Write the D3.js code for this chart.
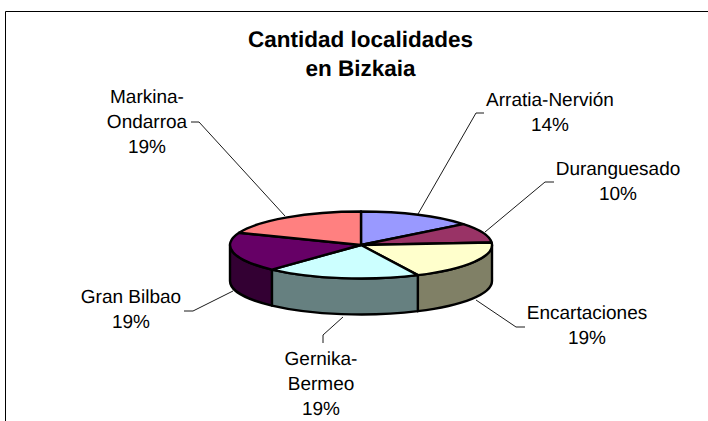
<!DOCTYPE html>
<html><head><meta charset="utf-8">
<script src="https://cdn.jsdelivr.net/npm/d3@7"></script>
<style>html,body{margin:0;padding:0;background:#fff}svg{display:block}text{font-family:"Liberation Sans",Arial,sans-serif;fill:#000;text-rendering:geometricPrecision}</style>
</head><body><svg id="c" width="708" height="421"></svg>
<script>
const titleLines = ["Cantidad localidades","en Bizkaia"];
const categories = ["Arratia-Nervión","Duranguesado","Encartaciones","Gernika-Bermeo","Gran Bilbao","Markina-Ondarroa"];
const labelLines = [["Arratia-Nervión"],["Duranguesado"],["Encartaciones"],["Gernika-","Bermeo"],["Gran Bilbao"],["Markina-","Ondarroa"]];
const counts = [3,2,4,4,4,4];
const topColors = ["#9999ff","#993366","#ffffcc","#ccffff","#660066","#ff8080"];
const sideColors = ["#4c4c80","#4c1933","#808066","#668080","#330033","#804040"];
const labelPos = [[550,106],[618,175],[587,319],[321,365],[131,303],[147,103]];
const leaders = [[[484,113],[476,113],[418,214]],[[554,182],[545,182],[485,232]],[[525,327],[516,327],[476,300]],[[323,343],[323,335],[343,317]],[[184,311],[193,311],[233,291]],[[191,122],[199,122],[285,216]]];

const svg = d3.select("#c");
const cx=361, cy=245, rx=131, ry=33.5, depth=36;
const fmt = d3.format(".0%");
const total = d3.sum(counts);
const arcs = d3.pie().sort(null).value(d=>d)(counts);
const px = a => cx + rx*Math.sin(a), py = (a,dy=0) => cy - ry*Math.cos(a) + dy;

svg.append("path").attr("d","M5.5 421V11.5H708").attr("fill","none").attr("stroke","#000").attr("stroke-width",1);

const title = svg.append("text").attr("text-anchor","middle").attr("font-weight","bold").attr("font-size",22.5);
titleLines.forEach((t,i)=>title.append("tspan").attr("x",360.5).attr("y",46.5+i*29).text(t));

// side walls
const sides = svg.append("g");
arcs.forEach((d,i)=>{
  const a0=Math.max(d.startAngle,Math.PI/2), a1=Math.min(d.endAngle,Math.PI*1.5);
  if(a1<=a0) return;
  sides.append("path")
    .attr("d",`M${px(a0)} ${py(a0)}A${rx} ${ry} 0 0 1 ${px(a1)} ${py(a1)}L${px(a1)} ${py(a1,depth)}A${rx} ${ry} 0 0 0 ${px(a0)} ${py(a0,depth)}Z`)
    .attr("fill",sideColors[i]).attr("stroke","#000").attr("stroke-width",2.4).attr("stroke-linejoin","round");
});
// top face
const arcGen = d3.arc().innerRadius(0).outerRadius(rx);
svg.append("g").attr("transform",`translate(${cx},${cy}) scale(1,${ry/rx})`)
  .selectAll("path").data(arcs).join("path")
  .attr("d",arcGen).attr("fill",(d,i)=>topColors[i])
  .attr("stroke","#000").attr("stroke-width",2.4).attr("stroke-linejoin","round")
  .attr("vector-effect","non-scaling-stroke");

// leaders
const line=d3.line();
svg.append("g").selectAll("path").data(leaders).join("path")
  .attr("d",d=>line(d)).attr("fill","none").attr("stroke","#000").attr("stroke-width",0.9);

// labels
labelLines.forEach((lines,i)=>{
  const g=svg.append("text").attr("text-anchor","middle").attr("font-size",19);
  const [x,y]=labelPos[i];
  lines.concat(fmt(counts[i]/total)).forEach((t,j)=>g.append("tspan").attr("x",x).attr("y",y+j*25).text(t));
});
</script></body></html>
